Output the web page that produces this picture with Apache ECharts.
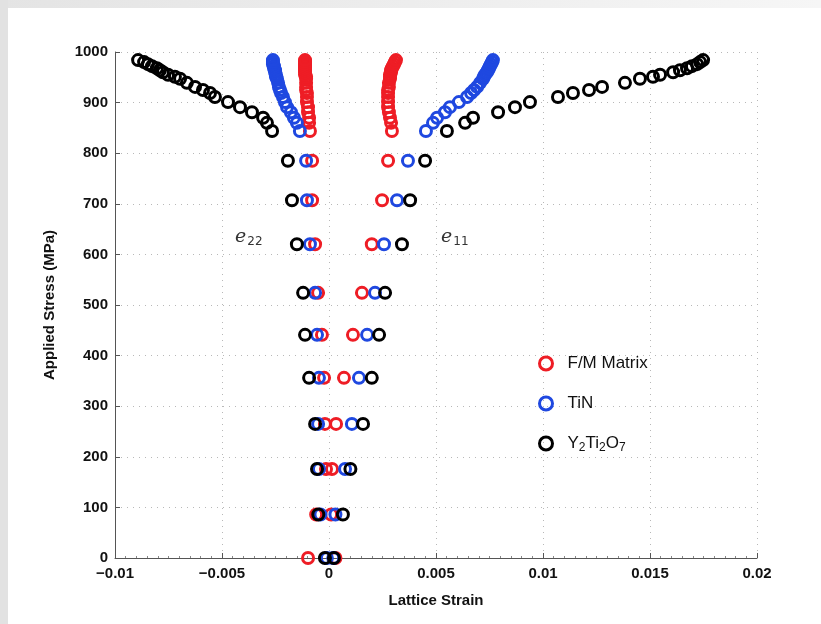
<!DOCTYPE html>
<html>
<head>
<meta charset="utf-8">
<script src="https://cdn.jsdelivr.net/npm/echarts@6/dist/echarts.min.js"></script>
<style>
  html, body { margin: 0; padding: 0; background: #fff; }
  #main { width: 821px; height: 624px; }
</style>
</head>
<body>
<div id="main"></div>
<script>
// applied stress levels (MPa), shared by every phase
const stress = [0, 86, 176, 265, 356, 441, 524, 620, 707, 785,
  844, 860, 870, 881, 891, 901, 911, 919, 925, 931, 939, 947, 951, 955, 960, 964, 968, 972, 976, 980, 984]

// lattice strain, e22 (transverse) and e11 (axial) per phase
const fmE22 = [-0.00098, -0.0006, -0.00014, -0.00019, -0.00023, -0.00033, -0.00051, -0.00065, -0.00079, -0.00079,
  -0.00089, -0.00093, -0.00093, -0.00098, -0.00098, -0.00103, -0.00103, -0.00103, -0.00107, -0.00107, -0.00107,
  -0.00107, -0.00107, -0.00112, -0.00112, -0.00112, -0.00112, -0.00112, -0.00112, -0.00112, -0.00112]
const fmE11 = [0.0003, 0.0001, 0.00014, 0.00033, 0.0007, 0.00112, 0.00154, 0.002, 0.00248, 0.00276,
  0.00294, 0.0029, 0.00285, 0.0028, 0.00276, 0.00276, 0.00276, 0.00276, 0.00276, 0.0028, 0.0028,
  0.00285, 0.00285, 0.00285, 0.0029, 0.0029, 0.00294, 0.00299, 0.00304, 0.00308, 0.00313]
const tinE22 = [-0.0001, -0.0004, -0.00047, -0.00051, -0.00047, -0.00056, -0.00065, -0.00089, -0.00103, -0.00107,
  -0.00136, -0.0015, -0.00164, -0.00178, -0.00196, -0.00206, -0.00215, -0.00224, -0.00229, -0.00234, -0.00238,
  -0.00243, -0.00248, -0.00248, -0.00252, -0.00252, -0.00257, -0.00257, -0.00262, -0.00262, -0.00262]
const tinE11 = [0.0002, 0.0003, 0.00075, 0.00107, 0.0014, 0.00178, 0.00215, 0.00257, 0.00318, 0.00369,
  0.00453, 0.00486, 0.00505, 0.00542, 0.00565, 0.00607, 0.00645, 0.00664, 0.00678, 0.00692, 0.00706,
  0.0072, 0.00724, 0.00729, 0.00738, 0.00743, 0.00748, 0.00752, 0.00757, 0.00762, 0.00766]
const ytoE22 = [-0.00019, -0.0005, -0.00056, -0.00065, -0.00093, -0.00112, -0.00121, -0.0015, -0.00173, -0.00192,
  -0.00266, -0.0029, -0.00308, -0.0036, -0.00416, -0.00472, -0.00533, -0.00556, -0.00589, -0.00626, -0.00664,
  -0.00696, -0.0072, -0.00752, -0.00776, -0.0079, -0.00804, -0.00827, -0.00846, -0.00864, -0.00892]
const ytoE11 = [0.00023, 0.00065, 0.001, 0.00159, 0.002, 0.00234, 0.00262, 0.00341, 0.00379, 0.00449,
  0.00551, 0.00636, 0.00673, 0.0079, 0.00869, 0.00939, 0.0107, 0.0114, 0.01215, 0.01276, 0.01383,
  0.01453, 0.01514, 0.01547, 0.01608, 0.0164, 0.01673, 0.01696, 0.0172, 0.01734, 0.01748]

const phases = ['F/M Matrix', 'TiN', 'Y2Ti2O7']
const colors = ['#ee1d25', '#1f48e0', '#000000']
const strains = [[fmE22, fmE11], [tinE22, tinE11], [ytoE22, ytoE11]]

const font = "'Liberation Sans', Arial, sans-serif"

function points(pair) {
  const out = []
  pair.forEach(arr => arr.forEach((v, i) => out.push([v, stress[i]])))
  return out
}

function strainLabel(e, sub) {
  return {
    text: '{e|' + e + '}{s|' + sub + '}',
    rich: {
      e: { fontFamily: "'DejaVu Serif', serif", fontStyle: 'italic', fontSize: 19, fill: '#333' },
      s: { fontFamily: "'DejaVu Sans', sans-serif", fontSize: 12, fill: '#333', padding: [9, 0, 0, 1] }
    }
  }
}

const chart = echarts.init(document.getElementById('main'))

chart.setOption({
  animation: false,
  backgroundColor: '#fff',
  grid: { left: 115, right: 64, top: 52, bottom: 66 },
  graphic: [
    { type: 'rect', left: 0, top: 0, shape: { width: 821, height: 8 },
      style: { fill: new echarts.graphic.LinearGradient(0, 0, 1, 0, [
        { offset: 0, color: '#e4e4e4' }, { offset: 1, color: '#f6f6f6' }]) } },
    { type: 'rect', left: 0, top: 0, shape: { width: 8, height: 624 }, style: { fill: '#e2e2e2' } },
    { type: 'text', left: 235, top: 228, style: strainLabel('e', '22') },
    { type: 'text', left: 441, top: 228, style: strainLabel('e', '11') }
  ],
  legend: {
    orient: 'vertical',
    left: 533, top: 350,
    itemGap: 23,
    itemWidth: 13, itemHeight: 13,
    icon: 'circle',
    data: phases,
    itemStyle: { color: 'rgba(0,0,0,0)', borderWidth: 3 },
    formatter: name => name === 'Y2Ti2O7'
      ? '{n|Y}{s|2}{n|Ti}{s|2}{n|O}{s|7}'
      : '{n|' + name + '}',
    textStyle: {
      rich: {
        n: { fontFamily: font, fontSize: 17, color: '#111' },
        s: { fontFamily: font, fontSize: 12, color: '#111', padding: [9, 0, 0, 0] }
      },
      padding: [0, 0, 0, 10]
    }
  },
  xAxis: {
    type: 'value',
    min: -0.01, max: 0.02, interval: 0.005,
    name: 'Lattice Strain',
    nameLocation: 'middle',
    nameGap: 35,
    nameTextStyle: { fontFamily: font, fontWeight: 'bold', fontSize: 15, color: '#111' },
    axisLine: { show: true, onZero: false, lineStyle: { color: '#555', width: 1 } },
    axisTick: { show: true, inside: true, length: 5, lineStyle: { color: '#555' } },
    minorTick: { show: true, splitNumber: 10, length: 2, lineStyle: { color: '#888' } },
    axisLabel: {
      fontFamily: font, fontWeight: 'bold', fontSize: 15, color: '#111', margin: 8,
      formatter: v => (v < 0 ? '\u2212' + String(-v) : String(v))
    },
    splitLine: { show: true, lineStyle: { color: '#b8b8b8', type: [1, 5], width: 1 } }
  },
  yAxis: {
    type: 'value',
    min: 0, max: 1000, interval: 100,
    name: 'Applied Stress (MPa)',
    nameLocation: 'middle',
    nameGap: 58,
    nameTextStyle: { fontFamily: font, fontWeight: 'bold', fontSize: 15, color: '#111' },
    axisLine: { show: true, onZero: false, lineStyle: { color: '#555', width: 1 } },
    axisTick: { show: true, inside: true, length: 5, lineStyle: { color: '#555' } },
    axisLabel: {
      fontFamily: font, fontWeight: 'bold', fontSize: 15, color: '#111', margin: 7,
      formatter: v => String(v)
    },
    splitLine: { show: true, lineStyle: { color: '#b8b8b8', type: [1, 5], width: 1 } }
  },
  series: phases.map((name, k) => ({
    name,
    type: 'scatter',
    symbol: 'circle',
    symbolSize: 11,
    color: colors[k],
    itemStyle: { color: 'rgba(0,0,0,0)', borderColor: colors[k], borderWidth: 3, opacity: 1 },
    emphasis: { disabled: true },
    data: points(strains[k])
  }))
})
</script>
</body>
</html>
